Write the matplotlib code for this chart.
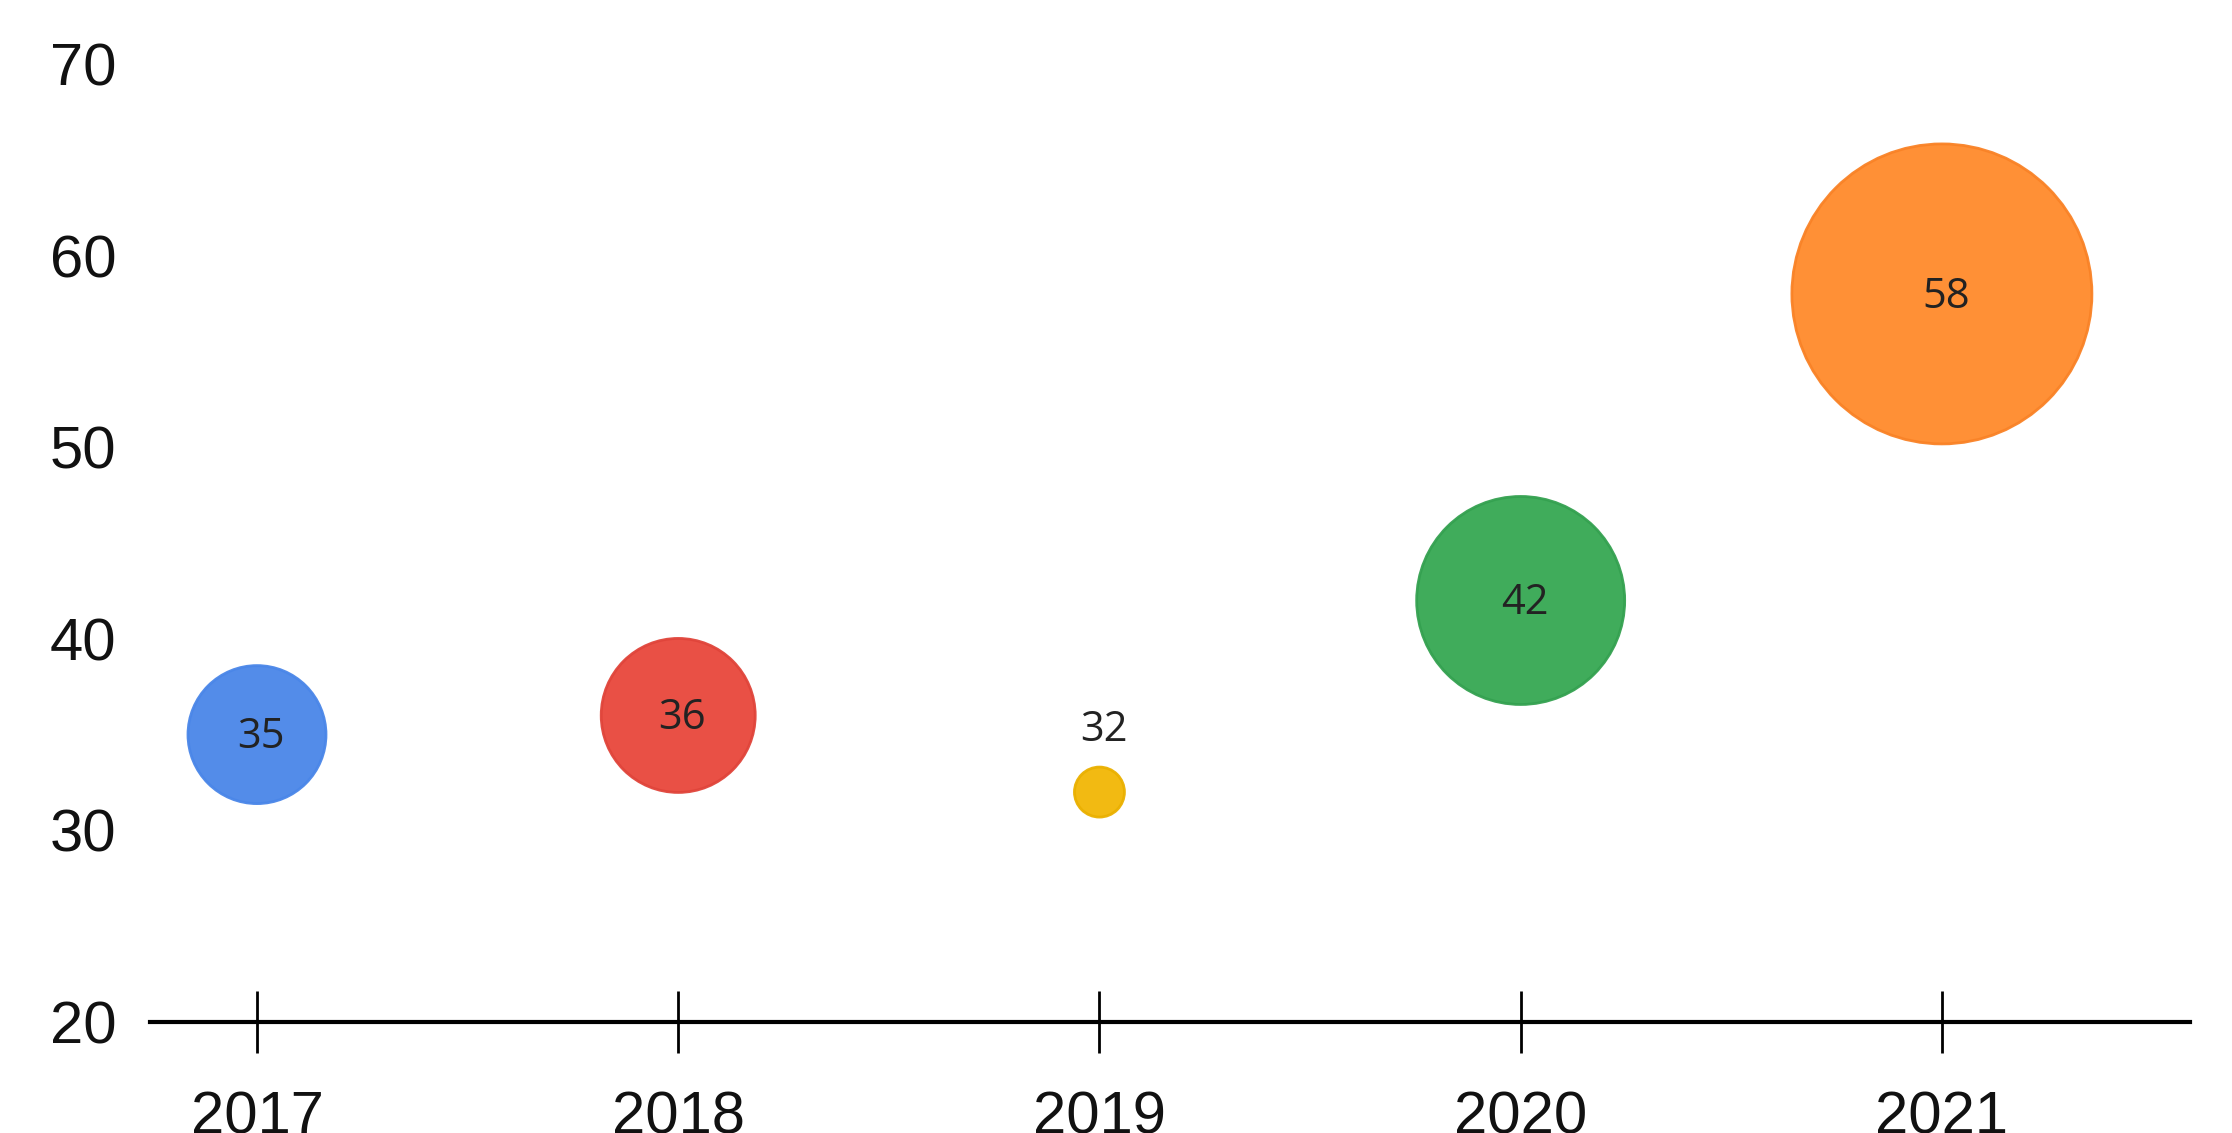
import matplotlib.pyplot as plt
import numpy as np

# data
years = [2017, 2018, 2019, 2020, 2021]
values = [35, 36, 32, 42, 58]
bubble_size = [69, 77, 25, 104, 150]   # relative bubble size (radius units)
colors = ['#4a86e8', '#e8463b', '#f2b705', '#36a852', '#ff8a2b']
edge_colors = ['#4a86e8', '#e0443a', '#eab000', '#34a150', '#f98226']
y_ticks = [20, 30, 40, 50, 60, 70]

DPI = 100
fig = plt.figure(figsize=(22.32, 11.33), dpi=DPI)
ax = fig.add_axes([150 / 2232, 111 / 1133, (2190 - 150) / 2232, 1022 / 1133])

# radius in px -> marker area in points^2
s = [(2 * r * 72 / DPI) ** 2 for r in bubble_size]
ax.scatter(years, values, s=s, c=colors, edgecolors=edge_colors,
           linewidths=2, alpha=0.95, zorder=3)

for x, v, r in zip(years, values, bubble_size):
    if r < 40:
        ax.annotate(str(v), (x, v), xytext=(3, 45), textcoords='offset points',
                    ha='center', va='center', fontsize=30, color='#222222',
                    family='Open Sans', zorder=4)
    else:
        ax.annotate(str(v), (x, v), xytext=(3, -2), textcoords='offset points',
                    ha='center', va='center', fontsize=30, color='#222222',
                    family='Open Sans', zorder=4)

ax.set_xlim(2016.746, 2021.589)
ax.set_ylim(20, 73.34)
ax.set_xticks(years)
ax.set_yticks(y_ticks)

for side in ['left', 'right', 'top']:
    ax.spines[side].set_visible(False)
ax.spines['bottom'].set_linewidth(3)
ax.spines['bottom'].set_color('black')

ax.tick_params(axis='x', direction='inout', length=45, width=2, pad=27,
               labelsize=43, colors='black')
ax.tick_params(axis='y', length=0, pad=24, labelsize=43)
for lab in ax.get_xticklabels() + ax.get_yticklabels():
    lab.set_family('Liberation Sans')
    lab.set_color('#111111')

plt.savefig('out.png', dpi=DPI, facecolor='white')
